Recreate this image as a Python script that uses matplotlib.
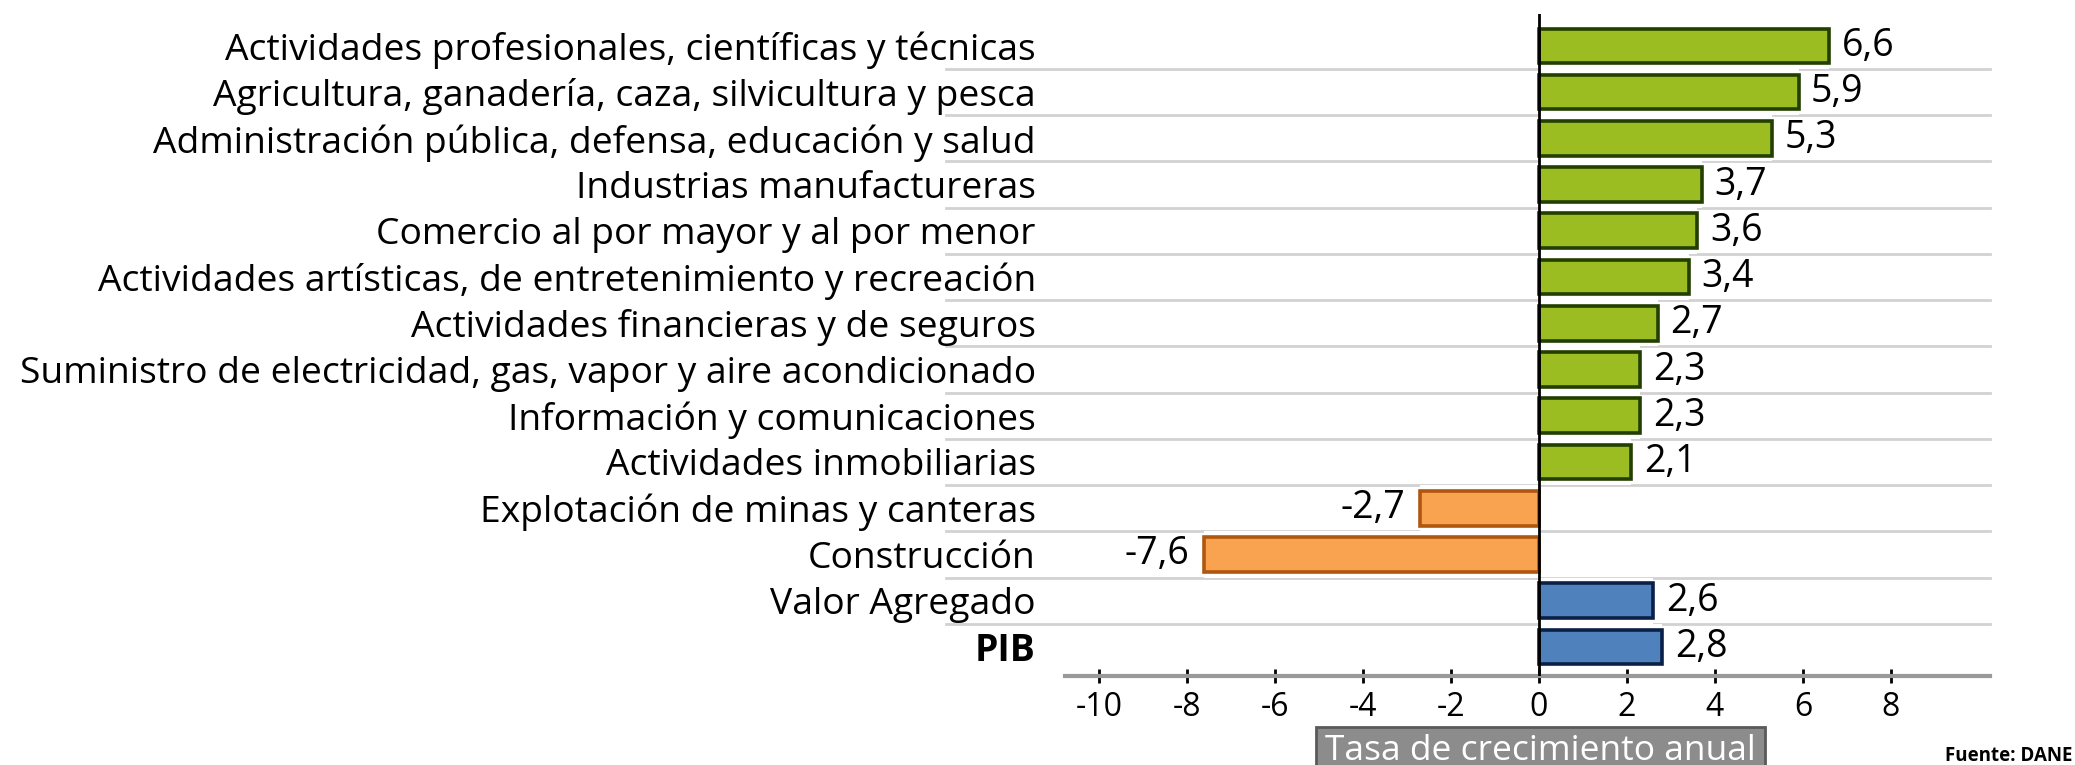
import matplotlib
matplotlib.use('Agg')
import matplotlib.pyplot as plt
from matplotlib.patches import Rectangle
from matplotlib.transforms import blended_transform_factory

categories = [
    "Actividades profesionales, científicas y técnicas",
    "Agricultura, ganadería, caza, silvicultura y pesca",
    "Administración pública, defensa, educación y salud",
    "Industrias manufactureras",
    "Comercio al por mayor y al por menor",
    "Actividades artísticas, de entretenimiento y recreación",
    "Actividades financieras y de seguros",
    "Suministro de electricidad, gas, vapor y aire acondicionado",
    "Información y comunicaciones",
    "Actividades inmobiliarias",
    "Explotación de minas y canteras",
    "Construcción",
    "Valor Agregado",
    "PIB",
]
values = [6.6, 5.9, 5.3, 3.7, 3.6, 3.4, 2.7, 2.3, 2.3, 2.1, -2.7, -7.6, 2.6, 2.8]
is_total = [False] * 12 + [True, True]
xticks = [-10, -8, -6, -4, -2, 0, 2, 4, 6, 8]
axis_title = "Tasa de crecimiento anual"
source = "Fuente: DANE"

plt.rcParams['font.family'] = ['Open Sans', 'DejaVu Sans']

W, H = 2075, 765
fig = plt.figure(figsize=(W / 100, H / 100), dpi=100)


def fx(px):
    return px / W


def fy(py):
    return 1 - py / H


ax = fig.add_axes([fx(1065), fy(676), fx(1990) - fx(1065), fy(14) - fy(676)])

ypos = list(range(len(categories)))
fills, edges = [], []
for v, t in zip(values, is_total):
    if t:
        fills.append('#4f81bd'); edges.append('#0b2048')
    elif v >= 0:
        fills.append('#9bbd22'); edges.append('#233f00')
    else:
        fills.append('#f9a24f'); edges.append('#b0560e')

# row separators
btf = blended_transform_factory(ax.transAxes, ax.transData)
for i in range(len(categories) - 1):
    ax.plot([-0.1286, 1.0], [i + 0.5, i + 0.5], transform=btf, clip_on=False,
            color='#d2d2d2', lw=2, zorder=0)

# white masks behind bars
ax.barh(ypos, values, height=1.0, color='white', zorder=1)
ax.barh(ypos, values, height=0.75, color=fills, edgecolor=edges, linewidth=2.6, zorder=3)

for y, v in zip(ypos, values):
    lab = f"{v:.1f}".replace('.', ',')
    if v >= 0:
        ax.annotate(lab, (v, y), xytext=(9, 0), textcoords='offset points',
                    ha='left', va='center', fontsize=27, color='black', zorder=4,
                    bbox=dict(fc='white', ec='none', pad=1))
    else:
        ax.annotate(lab, (v, y), xytext=(-11, 0), textcoords='offset points',
                    ha='right', va='center', fontsize=27, color='black', zorder=4,
                    bbox=dict(fc='white', ec='none', pad=1))

ax.axvline(0, color='black', lw=2, zorder=5)

ax.set_xlim(-10.77, 10.25)
ax.set_ylim(13.63, -0.69)

ax.set_yticks(ypos)
ax.set_yticklabels(categories, fontsize=26.8)
for lbl in ax.get_yticklabels():
    if lbl.get_text() == 'PIB':
        lbl.set_fontweight('bold')
ax.tick_params(axis='y', length=0, pad=21)

ax.set_xticks(xticks)
ax.set_xticklabels([str(t) for t in xticks], fontsize=23)
ax.tick_params(axis='x', direction='inout', length=10, width=2, color='black', pad=6)

for s in ['top', 'right', 'left']:
    ax.spines[s].set_visible(False)
ax.spines['bottom'].set_color('#999999')
ax.spines['bottom'].set_linewidth(3)

# axis title box
fig.patches.append(Rectangle((fx(1316), fy(775)), fx(1765) - fx(1316), fy(727) - fy(775),
                             transform=fig.transFigure, facecolor='#8c8c8c',
                             edgecolor='#5a5a5a', linewidth=2))
fig.text(fx(1540), fy(751), axis_title, ha='center', va='center', fontsize=25.5,
         color='white')
fig.text(fx(2072), fy(756), source, ha='right', va='center', fontsize=13.5,
         fontweight='bold', color='black')

fig.savefig('out.png', dpi=100)
